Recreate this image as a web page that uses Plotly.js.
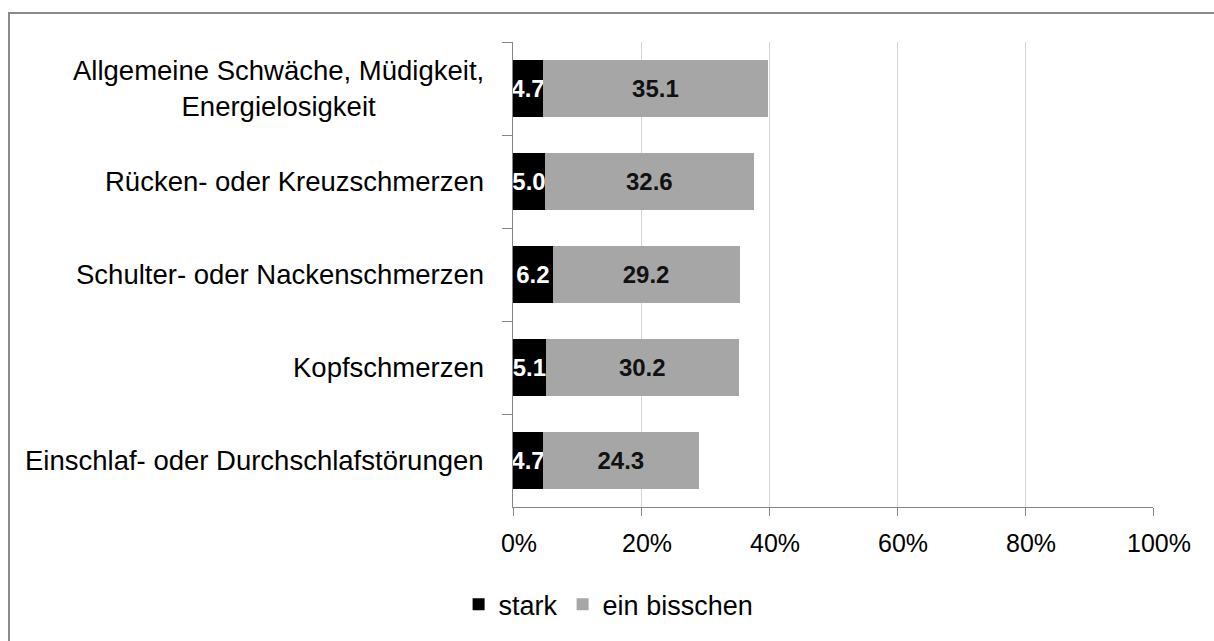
<!DOCTYPE html>
<html>
<head>
<meta charset="utf-8">
<script src="https://cdn.plot.ly/plotly-3.0.1.min.js"></script>
<style>
  html, body { margin: 0; padding: 0; background: #ffffff; }
  #wrap { position: relative; width: 1214px; height: 641px; overflow: hidden; }
  #chart { position: absolute; left: 0; top: 0; width: 1214px; height: 641px; }
  #frame { position: absolute; left: 8px; top: 12px; width: 1210px; height: 640px;
           border-left: 2px solid #8a8a8a; border-top: 2px solid #8a8a8a; pointer-events: none; }
</style>
</head>
<body>
<div id="wrap">
  <div id="chart"></div>
  <div id="frame"></div>
</div>
<script>
// Categories (top to bottom)
const categories = [
  "Allgemeine Schwäche, Müdigkeit,<br>Energielosigkeit",
  "Rücken- oder Kreuzschmerzen",
  "Schulter- oder Nackenschmerzen",
  "Kopfschmerzen",
  "Einschlaf- oder Durchschlafstörungen"
];
const seriesNames = ["stark", "ein bisschen"];
const stark = [4.7, 5.0, 6.2, 5.1, 4.7];
const einBisschen = [35.1, 32.6, 29.2, 30.2, 24.3];
const xTickValues = [0, 20, 40, 60, 80, 100];
const xTickLabels = ["0%", "20%", "40%", "60%", "80%", "100%"];

const FONT = "Liberation Sans, Arial, Helvetica, sans-serif";

const traces = [
  {
    type: "bar", orientation: "h", name: seriesNames[0],
    y: categories, x: stark,
    marker: { color: "#000000" },
    text: stark.map(v => v.toFixed(1)),
    texttemplate: "%{text}",
    textposition: "inside", insidetextanchor: "middle", constraintext: "none",
    textangle: 0,
    textfont: { family: FONT, size: 24, color: "#ffffff", weight: "bold" },
    hoverinfo: "skip"
  },
  {
    type: "bar", orientation: "h", name: seriesNames[1],
    y: categories, x: einBisschen,
    marker: { color: "#a6a6a6" },
    text: einBisschen.map(v => v.toFixed(1)),
    texttemplate: "%{text}",
    textposition: "inside", insidetextanchor: "middle", constraintext: "none",
    textangle: 0,
    textfont: { family: FONT, size: 24, color: "#111111", weight: "bold" },
    hoverinfo: "skip"
  }
];

const annotations = categories.map(c => ({
  xref: "paper", yref: "y", x: 0, y: c,
  xanchor: "right", yanchor: "middle", xshift: -27,
  text: c, showarrow: false, align: "center",
  font: { family: FONT, size: 27.5, color: "#000000" }
}));

const layout = {
  width: 1214, height: 641,
  margin: { l: 513, r: 61, t: 42, b: 129, pad: 0 },
  paper_bgcolor: "#ffffff", plot_bgcolor: "#ffffff",
  barmode: "stack", bargap: 0.39,
  font: { family: FONT, color: "#000000" },
  showlegend: true,
  legend: {
    orientation: "h", x: -0.085, xanchor: "left", y: -0.21, yanchor: "middle",
    font: { family: FONT, size: 27, color: "#000000" },
    traceorder: "normal", bgcolor: "rgba(0,0,0,0)"
  },
  xaxis: {
    range: [0, 100], tickmode: "array", tickvals: xTickValues, ticktext: xTickLabels,
    showgrid: true, gridcolor: "#d4d4d4", gridwidth: 1,
    showline: true, linecolor: "#868686", linewidth: 1,
    ticks: "outside", ticklen: 8, tickcolor: "#868686",
    zeroline: false, fixedrange: true,
    tickfont: { family: FONT, size: 25, color: "#000000" },
    ticklabelshift: 6, ticklabelstandoff: 6
  },
  yaxis: {
    type: "category", autorange: "reversed",
    showgrid: false, showline: true, linecolor: "#868686", linewidth: 1,
    ticks: "outside", ticklen: 10, tickcolor: "#868686", tickson: "boundaries",
    showticklabels: false, zeroline: false, fixedrange: true
  },
  annotations: annotations
};

Plotly.newPlot("chart", traces, layout, { displayModeBar: false, staticPlot: true });
</script>
</body>
</html>
